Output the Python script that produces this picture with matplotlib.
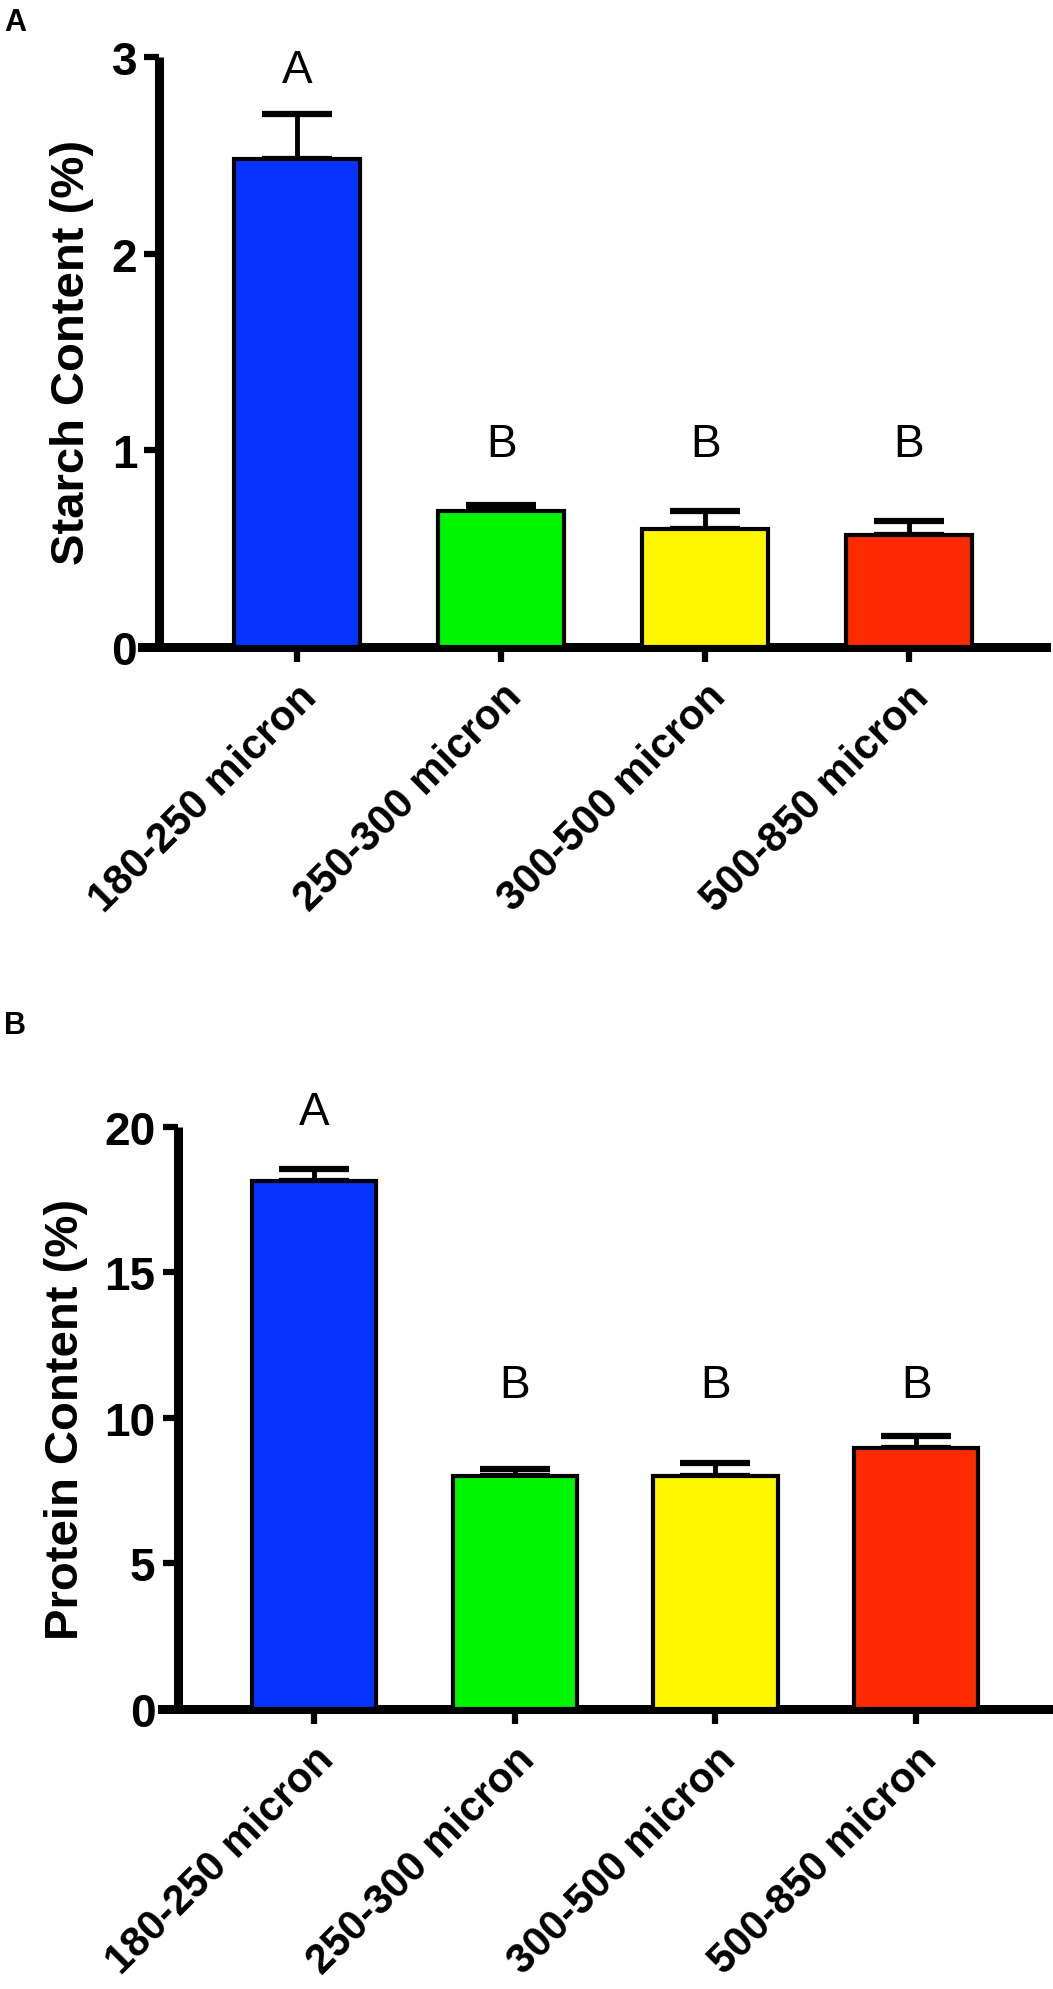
import matplotlib
matplotlib.use("Agg")
import matplotlib.pyplot as plt

plt.rcParams['font.family'] = ['Liberation Sans', 'DejaVu Sans']

categories = ["180-250 micron", "250-300 micron", "300-500 micron", "500-850 micron"]
colors = ["#0533FF", "#00F500", "#FFF700", "#FF2A00"]

starch = [2.48, 0.69, 0.60, 0.57]
starch_err = [0.23, 0.03, 0.09, 0.07]
starch_letters = ["A", "B", "B", "B"]

protein = [18.15, 8.0, 8.02, 8.96]
protein_err = [0.40, 0.26, 0.42, 0.42]
protein_letters = ["A", "B", "B", "B"]

fig = plt.figure(figsize=(10.53, 19.9), dpi=100)


def panel(rect, values, errs, letters, ymax, yticks, ylabel, letter_y, label_x, spine_x):
    ax = fig.add_axes(rect)
    x = range(len(values))
    ax.bar(x, values, width=0.62, color=colors, edgecolor="black", linewidth=3, zorder=3)
    ax.errorbar(x, values, yerr=[[0] * len(errs), errs], fmt="none", ecolor="black",
                elinewidth=3.5, capsize=25, capthick=4.5, zorder=2)
    for i, t in enumerate(letters):
        ax.text(i, letter_y[i], t, ha="center", va="baseline", fontsize=33)
    ax.set_xlim(-0.76, 3.67)
    ax.set_ylim(0, ymax)
    for s in ["top", "right"]:
        ax.spines[s].set_visible(False)
    ax.spines["left"].set_position(("data", spine_x))
    ax.spines["left"].set_linewidth(6.5)
    ax.spines["bottom"].set_linewidth(6.5)
    ax.spines["left"].set_capstyle("butt")
    ax.set_yticks(yticks)
    ax.set_yticklabels([str(v) for v in yticks], fontweight="bold", fontsize=33)
    ax.set_xticks(list(x))
    ax.set_xticklabels(categories, rotation=45, ha="right", rotation_mode="anchor",
                       fontweight="bold", fontsize=30)
    ax.tick_params(axis="both", length=11, width=4.5, direction="out")
    ax.tick_params(axis="y", pad=5)
    ax.tick_params(axis="x", pad=10)
    ax.set_ylabel(ylabel, fontweight="bold", fontsize=34)
    ax.yaxis.set_label_coords(label_x, 0.5)
    return ax


panel([0.1349, 0.6744, 0.8582, 0.2965], starch, starch_err, starch_letters, 3, [0, 1, 2, 3],
      "Starch Content (%)", [2.87, 0.97, 0.97, 0.97], -0.053, -0.675)
panel([0.1534, 0.1407, 0.8443, 0.2925], protein, protein_err, protein_letters, 20, [0, 5, 10, 15, 20],
      "Protein Content (%)", [20.1, 10.73, 10.73, 10.73], -0.083, -0.68)

fig.text(0.004, 0.996, "A", fontsize=22, fontweight="bold", va="top")
fig.text(0.004, 0.492, "B", fontsize=22, fontweight="bold", va="top")

fig.savefig("out.png", dpi=100)
